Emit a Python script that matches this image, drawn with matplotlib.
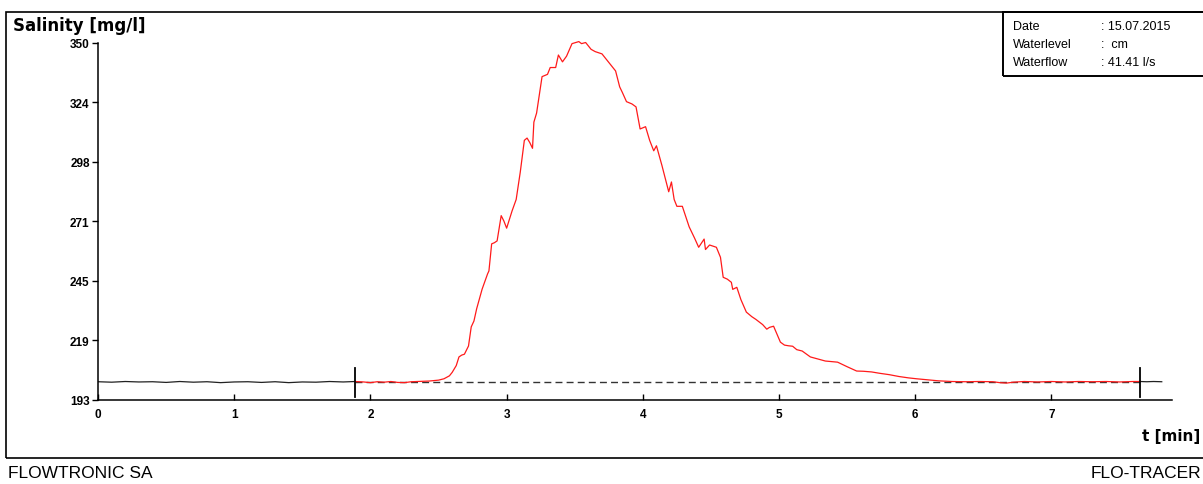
import matplotlib
matplotlib.use('Agg')
import matplotlib.pyplot as plt
from matplotlib.patches import Rectangle
import numpy as np

plt.rcParams['font.family'] = ['Liberation Sans', 'DejaVu Sans']

# baseline before injection (black)
pre_t = [0.0, 0.1, 0.2, 0.3, 0.4, 0.5, 0.6, 0.7, 0.8, 0.9, 1.0, 1.1, 1.2, 1.3, 1.4, 1.5, 1.6, 1.7, 1.8, 1.887]
pre_v = [200.9, 200.7, 201.0, 200.8, 200.9, 200.6, 201.0, 200.7, 200.9, 200.5, 200.8, 200.9, 200.6, 200.9, 200.5, 200.8, 200.7, 201.0, 200.8, 201.0]

# salt wave (red)
wave_t = [1.887, 1.95, 2.00, 2.05, 2.10, 2.15, 2.20, 2.25, 2.30, 2.35, 2.43, 2.50, 2.54, 2.58, 2.60,
          2.63, 2.65, 2.67, 2.69, 2.72, 2.74, 2.76, 2.78, 2.82, 2.86, 2.87, 2.89, 2.91, 2.93, 2.96,
          2.98, 3.00, 3.04, 3.07, 3.10, 3.13, 3.15, 3.17, 3.19, 3.20, 3.22, 3.24, 3.26, 3.30, 3.32,
          3.36, 3.38, 3.41, 3.44, 3.48, 3.53, 3.55, 3.58, 3.62, 3.65, 3.70, 3.74, 3.80, 3.83, 3.85,
          3.88, 3.92, 3.95, 3.98, 4.02, 4.05, 4.08, 4.10, 4.14, 4.19, 4.21, 4.23, 4.25, 4.29, 4.34,
          4.38, 4.41, 4.45, 4.46, 4.49, 4.54, 4.57, 4.59, 4.62, 4.65, 4.66, 4.69, 4.72, 4.76, 4.80,
          4.83, 4.88, 4.91, 4.93, 4.96, 5.01, 5.04, 5.07, 5.10, 5.13, 5.17, 5.23, 5.28, 5.34, 5.43,
          5.50, 5.57, 5.62, 5.68, 5.74, 5.81, 5.88, 5.95, 6.01, 6.10, 6.17, 6.27, 6.37, 6.47, 6.57,
          6.62, 6.67, 6.72, 6.80, 6.90, 7.00, 7.10, 7.20, 7.30, 7.40, 7.50, 7.60, 7.65]
wave_v = [201.0, 200.8, 200.5, 200.9, 200.7, 201.0, 200.6, 200.5, 200.9, 201.0, 201.2, 201.6, 202.2, 203.5, 205.0,
          208.0, 211.8, 212.6, 213.0, 216.6, 225.0, 227.6, 233.0, 241.6, 248.3, 249.6, 261.5, 262.0, 262.8, 273.9,
          271.5, 268.4, 276.0, 281.0, 293.0, 307.0, 308.0, 306.0, 303.5, 315.0, 319.0, 327.0, 335.0, 336.0, 339.0,
          339.0, 344.5, 341.5, 344.0, 349.5, 350.4, 349.5, 350.0, 347.0, 346.0, 345.0, 342.0, 337.5, 330.5, 328.0,
          324.0, 323.0, 321.7, 312.0, 313.0, 307.0, 302.4, 304.6, 296.0, 284.4, 288.7, 281.0, 278.0, 278.0, 269.0,
          264.0, 260.0, 263.6, 259.0, 261.0, 260.0, 255.6, 246.8, 246.0, 244.6, 241.5, 242.4, 237.0, 231.5, 229.5,
          228.3, 226.0, 224.0, 224.8, 225.3, 218.3, 217.0, 216.7, 216.5, 215.0, 214.4, 211.8, 211.0, 210.0, 209.5,
          207.5, 205.6, 205.5, 205.2, 204.6, 204.0, 203.2, 202.6, 202.2, 201.7, 201.3, 201.0, 200.9, 201.0, 200.9,
          200.5, 200.3, 200.7, 201.0, 200.8, 201.0, 200.8, 201.0, 200.9, 201.0, 200.8, 201.0, 201.0]

# after the wave (black)
post_t = [7.65, 7.70, 7.75, 7.81]
post_v = [201.0, 200.9, 201.0, 200.9]

base_level = 201.0
limits_t = [1.887, 7.65]

y_ticks = [193, 219.17, 245.33, 271.5, 297.67, 323.83, 350]
y_labels = ['193', '219', '245', '271', '298', '324', '350']
x_ticks = [0, 1, 2, 3, 4, 5, 6, 7]

fig = plt.figure(figsize=(12.03, 4.85), dpi=100)
ax = fig.add_axes([0.0815, 0.1738, 0.8927, 0.7365])

ax.plot(pre_t, pre_v, color='#222222', lw=0.9)
ax.plot(post_t, post_v, color='#222222', lw=0.9)
ax.plot([limits_t[0], limits_t[1]], [base_level, base_level], color='#333333', lw=1.0,
        ls=(0, (5, 3)), zorder=2)
ax.plot(wave_t, wave_v, color='#ff1a1a', lw=0.9, zorder=3, clip_on=False)
for t in limits_t:
    ax.plot([t, t], [194.2, 206.9], color='black', lw=1.3, zorder=4)

ax.set_xlim(0, 7.885)
ax.set_ylim(193, 350)
ax.set_yticks(y_ticks)
ax.set_yticklabels(y_labels)
ax.set_xticks(x_ticks)
ax.set_xticklabels([str(x) for x in x_ticks])
for sp in ['top', 'right']:
    ax.spines[sp].set_visible(False)
for sp in ['left', 'bottom']:
    ax.spines[sp].set_linewidth(1.1)
ax.tick_params(axis='y', direction='out', length=4, width=1, labelsize=8.5, pad=2)
ax.tick_params(axis='x', direction='in', length=4, width=1, labelsize=8.5, pad=6)
for lab in ax.get_xticklabels() + ax.get_yticklabels():
    lab.set_fontweight('bold')

# outer frame and info box
fig.add_artist(Rectangle((0.005, 0.0536), 1.2, 0.9196, transform=fig.transFigure,
                         fill=False, ec='black', lw=1.2))
fig.add_artist(Rectangle((0.8338, 0.8412), 0.3, 0.132, transform=fig.transFigure,
                         fill=False, ec='black', lw=1.4))

fig.text(0.0108, 0.946, 'Salinity [mg/l]', fontsize=12, fontweight='bold',
         family=['DejaVu Sans'], va='center', ha='left')
fig.text(0.949, 0.099, 't [min]', fontsize=11, fontweight='bold',
         family=['DejaVu Sans'], va='center', ha='left')
fig.text(0.0066, 0.0227, 'FLOWTRONIC SA', fontsize=12.5, va='center', ha='left')
fig.text(0.907, 0.0227, 'FLO-TRACER', fontsize=12.5, va='center', ha='left')

info_rows = [('Date', ': 15.07.2015'), ('Waterlevel', ':  cm'), ('Waterflow', ': 41.41 l/s')]
info_y = [0.9443, 0.9072, 0.870]
for (k, v), yy in zip(info_rows, info_y):
    fig.text(0.842, yy, k, fontsize=9, va='center', ha='left')
    fig.text(0.9152, yy, v, fontsize=9, va='center', ha='left')

fig.savefig('out.png', dpi=100)
